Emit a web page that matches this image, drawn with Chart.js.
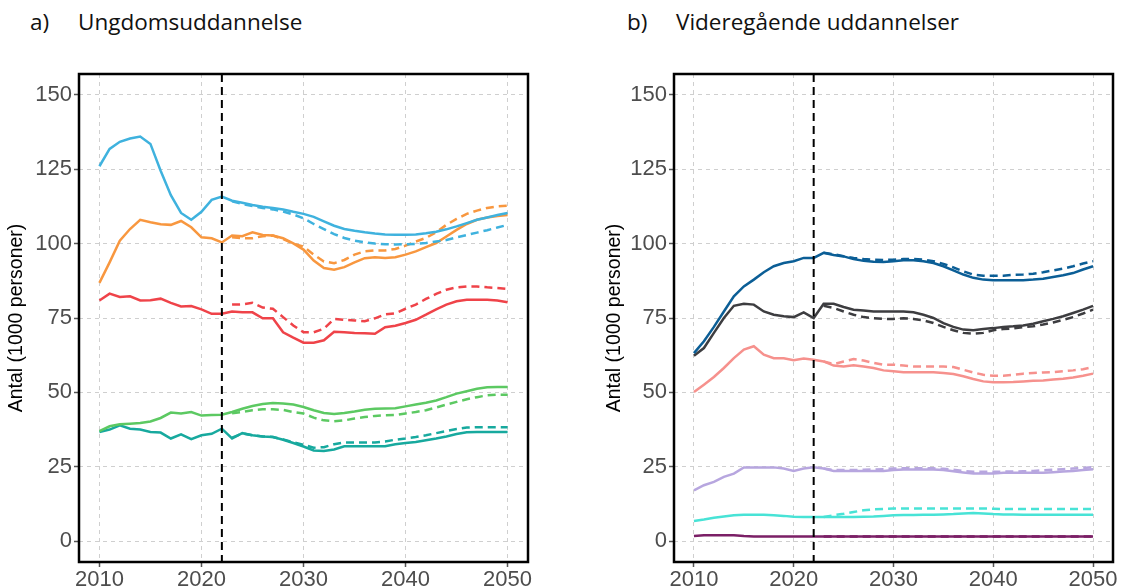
<!DOCTYPE html>
<html lang="da">
<head>
<meta charset="UTF-8" />
<title>Ungdomsuddannelse og videregående uddannelser</title>
<script src="https://cdn.jsdelivr.net/npm/chart.js"></script>
<style>
  html, body { margin: 0; padding: 0; background: #fff; overflow: hidden; }
  body { width: 1135px; height: 588px; position: relative; }
  .panel-title { position: absolute; top: 6px; font-family: "Open Sans", "Noto Sans", sans-serif; font-size: 22.5px; color: #111; white-space: nowrap; }
  .panel-title span { position: absolute; left: 0; }
  canvas { position: absolute; top: 0; }
</style>
</head>
<body>
  <div class="panel-title" style="left:30px"><span>a)</span><span style="left:48px">Ungdomsuddannelse</span></div>
  <div class="panel-title" style="left:627px"><span>b)</span><span style="left:49px">Videregående uddannelser</span></div>
  <canvas id="chartA" width="565" height="610" style="left:0"></canvas>
  <canvas id="chartB" width="540" height="610" style="left:595px"></canvas>

<script>
  // ----------- Data ------------
  const years = [2010, 2011, 2012, 2013, 2014, 2015, 2016, 2017, 2018, 2019, 2020,
    2021, 2022, 2023, 2024, 2025, 2026, 2027, 2028, 2029, 2030,
    2031, 2032, 2033, 2034, 2035, 2036, 2037, 2038, 2039, 2040,
    2041, 2042, 2043, 2044, 2045, 2046, 2047, 2048, 2049, 2050];
  const forecastStart = 2022;
  const yTicks = [0, 25, 50, 75, 100, 125, 150];
  const xTicks = [2010, 2020, 2030, 2040, 2050];
  const yTitle = 'Antal (1000 personer)';
  const pre = [null, null, null, null, null, null, null, null, null, null, null, null, null]; // 2010-2022

  // a) Ungdomsuddannelse
  const aBlue = [126, 131.8, 134.2, 135.3, 136, 133.5, 124.5, 116.3, 110.3, 108, 110.7,
    114.7, 115.8, 114.4, 113.7, 113, 112.4, 112, 111.5, 110.7, 110,
    109, 107.5, 106, 104.9, 104.3, 103.8, 103.4, 103.1, 103, 103,
    103.1, 103.5, 104, 104.8, 105.8, 106.9, 108, 108.8, 109.6, 110.3];
  const aBlueAlt = pre.concat([114.2, 113.3, 112.6, 112, 111.5, 110.8, 109.8, 108.5,
    106.6, 104.9, 103.2, 101.9, 101, 100.4, 100, 99.8, 99.7, 99.8,
    99.9, 100.2, 100.7, 101.2, 102.1, 102.9, 103.7, 104.5, 105.4, 106.3]);
  const aOrange = [86.8, 93.7, 101, 104.9, 108, 107.2, 106.5, 106.3, 107.6, 105.5, 102.1,
    101.8, 100.4, 102.7, 102.5, 103.8, 102.9, 102.7, 101.8, 100.1, 98,
    94.3, 91.8, 91.2, 92.1, 93.7, 95.1, 95.4, 95.2, 95.4, 96.3,
    97.4, 98.8, 100.2, 102.4, 104.6, 106.6, 108, 108.8, 109.3, 109.6];
  const aOrangeAlt = pre.concat([102.1, 101.8, 101.8, 102.5, 102.7, 101.5, 100, 99,
    96.3, 94, 93.4, 94.5, 96.3, 97.4, 97.7, 97.7, 98.2, 99.3,
    100.7, 101.9, 103.8, 106.3, 108.3, 110, 111.1, 112, 112.5, 112.7]);
  const aRed = [80.9, 83.2, 82.1, 82.3, 80.9, 81, 81.5, 80.1, 78.9, 79, 77.9,
    76.4, 76.4, 77.2, 76.9, 76.9, 74.9, 74.9, 70.2, 68.4, 66.7,
    66.7, 67.5, 70.4, 70.2, 70, 69.9, 69.7, 71.9, 72.4, 73.3,
    74.4, 76.1, 77.9, 79.5, 80.6, 81.1, 81.1, 81.1, 80.9, 80.3];
  const aRedAlt = pre.concat([79.5, 79.6, 80.1, 78.5, 78.1, 75.3, 72.5, 70.2,
    70.2, 71.4, 74.7, 74.4, 74.2, 73.9, 74.9, 76.2, 76.6, 78.1,
    79.5, 81.4, 83.1, 84.5, 85.3, 85.6, 85.6, 85.3, 85.1, 84.8]);
  const aGreen = [37, 38.6, 39.3, 39.5, 39.7, 40.2, 41.4, 43.2, 42.9, 43.4, 42.2,
    42.4, 42.5, 43.4, 44.5, 45.4, 46.1, 46.4, 46.3, 45.9, 45.1,
    44, 43.1, 42.7, 43.1, 43.6, 44.2, 44.5, 44.6, 44.7, 45.3,
    45.9, 46.5, 47.3, 48.4, 49.6, 50.4, 51.2, 51.7, 51.8, 51.8];
  const aGreenAlt = pre.concat([43, 43.4, 44, 44.3, 44.3, 44.1, 43.4, 42.9,
    41.5, 40.6, 40.3, 40.6, 41.2, 41.7, 42.1, 42.3, 42.4, 42.9,
    43.4, 44, 44.9, 45.9, 46.8, 47.7, 48.4, 49, 49.2, 49.2]);
  const aTeal = [36.7, 37.5, 38.9, 37.8, 37.5, 36.7, 36.5, 34.5, 35.9, 34.3, 35.6,
    36.1, 37.8, 34.5, 36.3, 35.6, 35.2, 35, 34.1, 33, 31.8,
    30.5, 30.3, 30.8, 31.9, 31.9, 31.9, 31.9, 31.9, 32.6, 33,
    33.3, 33.9, 34.5, 35.2, 36, 36.6, 36.7, 36.7, 36.7, 36.7];
  const aTealAlt = pre.concat([34.8, 36.2, 35.6, 35.2, 35, 34.2, 33.2, 32.4,
    31.4, 31.6, 32.6, 33.2, 33.2, 33.2, 33.2, 33.5, 34.1, 34.5,
    35, 35.6, 36.3, 37, 37.7, 38.2, 38.3, 38.3, 38.3, 38.3]);

  // b) Videregående uddannelser
  const bBlue = [63.2, 67.2, 72, 77.2, 82.3, 85.6, 87.9, 90.4, 92.4, 93.5, 94.1,
    95.2, 95.2, 96.9, 96.2, 95.7, 94.8, 94.2, 93.9, 93.8, 94.1,
    94.4, 94.4, 94.1, 93.5, 92.4, 91, 89.6, 88.5, 87.9, 87.7,
    87.7, 87.7, 87.7, 87.9, 88.2, 88.8, 89.4, 90.1, 91.3, 92.4];
  const bBlueAlt = pre.concat([96.9, 96.4, 95.8, 95.2, 94.8, 94.6, 94.5, 94.6,
    94.8, 94.8, 94.6, 94.1, 93.2, 92, 90.7, 89.6, 89.2, 89.2,
    89.2, 89.5, 89.6, 89.9, 90.4, 91, 91.6, 92.4, 93.3, 94.1]);
  const bGray = [62.3, 64.9, 70, 75, 79.1, 79.8, 79.5, 77.2, 76.1, 75.6, 75.3,
    76.9, 75, 79.8, 79.8, 78.7, 77.8, 77.5, 77.2, 77.2, 77.2,
    77.2, 76.9, 76.1, 75, 73.3, 72, 71.1, 70.9, 71.3, 71.6,
    72, 72.2, 72.5, 73.1, 73.9, 74.7, 75.6, 76.7, 77.8, 79.1];
  const bGrayAlt = pre.concat([79.1, 78.4, 77.2, 76.1, 75.3, 74.9, 74.7, 74.7,
    74.9, 74.7, 74.2, 73.3, 72, 70.9, 70, 69.7, 70, 70.9,
    71.3, 71.5, 71.9, 72.2, 72.8, 73.5, 74.4, 75.3, 76.5, 77.8]);
  const bPink = [50.1, 52.6, 55.2, 58.2, 61.5, 64.4, 65.5, 62.7, 61.5, 61.5, 60.8,
    61.4, 61, 60.4, 59, 58.7, 59.1, 58.7, 58.2, 57.4, 57.1,
    56.8, 56.8, 56.8, 56.8, 56.5, 56.2, 55.4, 54.5, 53.7, 53.4,
    53.4, 53.5, 53.7, 53.9, 54, 54.3, 54.6, 55, 55.6, 56.3];
  const bPinkAlt = pre.concat([60.4, 59.5, 60.4, 61.2, 60.7, 59.9, 59.3, 59.3,
    59, 58.7, 58.7, 58.7, 58.7, 58.5, 57.6, 56.7, 55.9, 55.6,
    55.6, 55.9, 56.3, 56.5, 56.7, 56.8, 57.1, 57.4, 57.8, 58.5]);
  const bLavender = [17.1, 18.8, 19.9, 21.6, 22.7, 24.8, 24.8, 24.8, 24.8, 24.4, 23.6,
    24.4, 24.8, 24.4, 23.6, 23.6, 23.6, 23.6, 23.6, 23.6, 23.9,
    24.1, 24.1, 24.1, 24.1, 23.9, 23.5, 23.1, 22.7, 22.7, 22.7,
    23, 23, 23, 23, 23, 23.2, 23.4, 23.6, 23.9, 24.2];
  const bLavenderAlt = pre.concat([24.4, 23.9, 23.9, 23.9, 24, 24.1, 24.2, 24.4,
    24.5, 24.5, 24.5, 24.5, 24.3, 24, 23.6, 23.3, 23.3, 23.3,
    23.4, 23.4, 23.5, 23.6, 23.8, 24, 24.2, 24.4, 24.6, 24.9]);
  const bCyan = [6.8, 7.3, 7.9, 8.3, 8.7, 8.9, 8.9, 8.9, 8.7, 8.5, 8.2,
    8.1, 8.1, 8.1, 8.1, 8.1, 8.1, 8.2, 8.3, 8.5, 8.7,
    8.8, 8.8, 8.9, 8.9, 9, 9.1, 9.3, 9.5, 9.3, 9.1,
    9, 9, 8.9, 8.9, 8.9, 8.9, 8.9, 8.9, 8.9, 8.9];
  const bCyanAlt = pre.concat([8.1, 8.7, 9.2, 9.8, 10.4, 10.7, 10.8, 11,
    11, 11, 11, 11, 11, 11, 11, 11, 11, 10.9,
    10.8, 10.8, 10.8, 10.8, 10.8, 10.8, 10.8, 10.8, 10.8, 10.8]);
  const bPurple = [1.7, 2, 2, 2, 2, 1.7, 1.6, 1.6, 1.6, 1.6, 1.6,
    1.6, 1.6, 1.6, 1.6, 1.6, 1.6, 1.6, 1.6, 1.6, 1.6,
    1.6, 1.6, 1.6, 1.6, 1.6, 1.6, 1.6, 1.6, 1.6, 1.6,
    1.6, 1.6, 1.6, 1.6, 1.6, 1.6, 1.6, 1.6, 1.6, 1.6];
  const bPurpleAlt = pre.concat([1.6, 1.6, 1.6, 1.6, 1.6, 1.6, 1.6, 1.6,
    1.6, 1.6, 1.6, 1.6, 1.6, 1.6, 1.6, 1.6, 1.6, 1.6,
    1.6, 1.6, 1.6, 1.6, 1.6, 1.6, 1.6, 1.6, 1.6, 1.6]);

  // ----------- Drawing ------------
  const panelPlugin = {
    id: 'panelFrame',
    afterDatasetsDraw(chart) {
      const { ctx, chartArea: a, scales: { x } } = chart;
      const px = x.getPixelForValue(forecastStart);
      ctx.save();
      ctx.strokeStyle = '#000';
      ctx.lineWidth = 2;
      ctx.setLineDash([8, 5]);
      ctx.beginPath();
      ctx.moveTo(px, a.top);
      ctx.lineTo(px, a.bottom);
      ctx.stroke();
      ctx.setLineDash([]);
      ctx.lineWidth = 2.5;
      ctx.strokeRect(a.left, a.top, a.right - a.left, a.bottom - a.top);
      ctx.restore();
    }
  };

  function lineSet(data, color, dashed) {
    return {
      data: data,
      borderColor: color,
      borderWidth: 2.5,
      borderDash: dashed ? [8, 5] : [],
      pointRadius: 0,
      tension: 0,
      fill: false
    };
  }

  const tickFont = { family: '"Liberation Sans", Arial, sans-serif', size: 22 };

  function makePanel(id, series, rightPad, titlePad) {
    const datasets = [];
    series.forEach(s => {
      datasets.push(lineSet(s[1], s[2], true));
      datasets.push(lineSet(s[0], s[2], false));
    });
    return new Chart(document.getElementById(id), {
      type: 'line',
      data: { labels: years, datasets: datasets },
      plugins: [panelPlugin],
      options: {
        responsive: false,
        animation: false,
        events: [],
        layout: { padding: { top: 74, right: rightPad, left: 0, bottom: 0 } },
        plugins: { legend: { display: false }, tooltip: { enabled: false } },
        scales: {
          x: {
            type: 'linear',
            min: 2008, max: 2052,
            afterFit: s => { s.height = 48; },
            afterBuildTicks: s => { s.ticks = xTicks.map(v => ({ value: v })); },
            ticks: { callback: v => String(v), color: '#4d4d4d', padding: 0, maxRotation: 0, font: tickFont },
            grid: { color: '#cfcfcf', lineWidth: 1, tickLength: 5, tickColor: '#555', tickWidth: 1.5, tickBorderDash: [] },
            border: { display: false, dash: [4, 4] }
          },
          y: {
            min: -7, max: 157,
            afterFit: s => { s.width = 79; },
            afterBuildTicks: s => { s.ticks = yTicks.map(v => ({ value: v })); },
            ticks: { color: '#4d4d4d', padding: 2, font: tickFont },
            grid: { color: '#cfcfcf', lineWidth: 1, tickLength: 5, tickColor: '#555', tickWidth: 1.5, tickBorderDash: [] },
            border: { display: false, dash: [4, 4] },
            title: {
              display: true, text: yTitle, color: '#000',
              padding: { top: titlePad, bottom: 0 },
              font: { family: '"Liberation Sans", Arial, sans-serif', size: 19.5 }
            }
          }
        }
      }
    });
  }

  makePanel('chartA', [
    [aBlue, aBlueAlt, '#3fb2de'],
    [aOrange, aOrangeAlt, '#f8973f'],
    [aRed, aRedAlt, '#ef4349'],
    [aGreen, aGreenAlt, '#5cc962'],
    [aTeal, aTealAlt, '#17a99e']
  ], 37, 5);

  makePanel('chartB', [
    [bBlue, bBlueAlt, '#0b5e96'],
    [bGray, bGrayAlt, '#3d3d40'],
    [bPink, bPinkAlt, '#f6918d'],
    [bLavender, bLavenderAlt, '#b7a6df'],
    [bCyan, bCyanAlt, '#48e3d6'],
    [bPurple, bPurpleAlt, '#7b1f66']
  ], 22, 8);
</script>
</body>
</html>
